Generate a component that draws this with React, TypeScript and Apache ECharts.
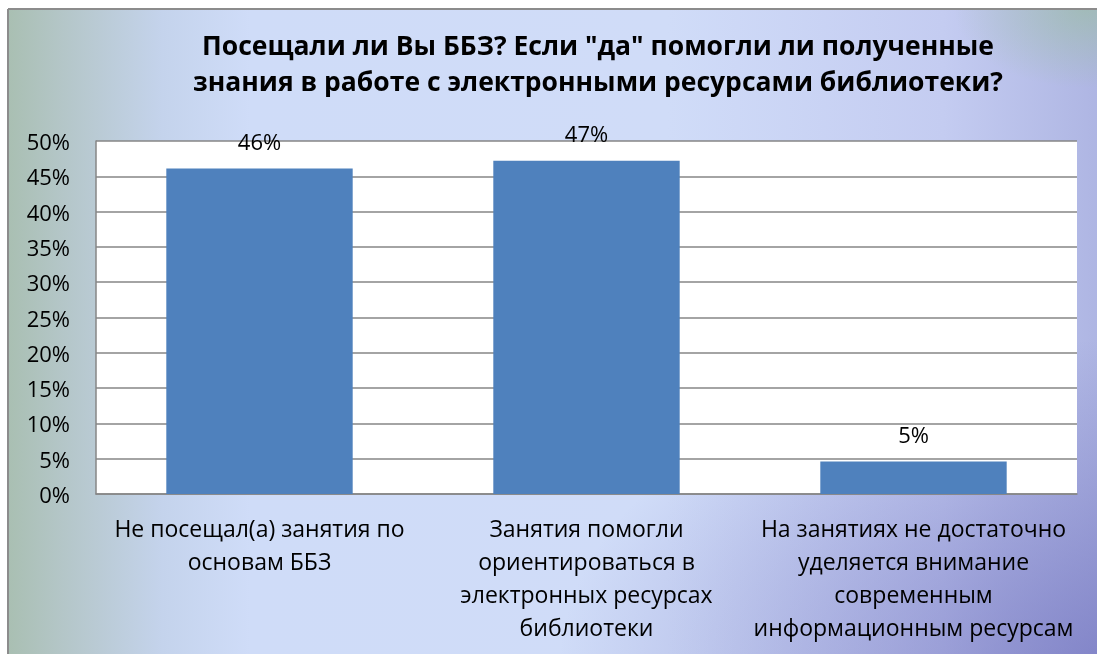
import React, { useEffect, useRef } from "react";
import * as echarts from "echarts";

const titleLines = [
  "Посещали ли Вы ББЗ? Если \"да\" помогли ли полученные",
  "знания в работе с электронными ресурсами библиотеки?",
];
const categories = [
  "Не посещал(а) занятия по\nосновам ББЗ",
  "Занятия помогли\nориентироваться в\nэлектронных ресурсах\nбиблиотеки",
  "На занятиях не достаточно\nуделяется внимание\nсовременным\nинформационным ресурсам",
];
const values = [0.461, 0.472, 0.046];
const yMin = 0;
const yMax = 0.5;
const yStep = 0.05;

const FONT = "'Open Sans', 'Noto Sans', sans-serif";

export default function App() {
  const ref = useRef<HTMLDivElement>(null);
  useEffect(() => {
    if (!ref.current) return;
    const chart = echarts.init(ref.current, undefined, { renderer: "svg" });
    chart.setOption({
      animation: false,
      graphic: [
        {
          type: "rect",
          silent: true,
          z: -10,
          shape: { x: 8, y: 9, width: 1100, height: 660 },
          style: {
            fill: new echarts.graphic.LinearGradient(0, 0, 1, 0, [
              { offset: 0, color: "#a9bfb2" },
              { offset: 0.05, color: "#b4c6c8" },
              { offset: 0.14, color: "#c4d3ec" },
              { offset: 0.22, color: "#cfdcf8" },
              { offset: 0.6, color: "#d0dcf8" },
              { offset: 0.85, color: "#c4ccf1" },
              { offset: 1, color: "#adb4e2" },
            ]),
          },
        },
        {
          type: "rect",
          silent: true,
          z: -9,
          shape: { x: 8, y: 9, width: 1100, height: 660 },
          style: {
            fill: new echarts.graphic.RadialGradient(1, 1, 0.5, [
              { offset: 0, color: "rgba(105,105,185,0.65)" },
              { offset: 1, color: "rgba(105,105,185,0)" },
            ]),
          },
        },
        {
          type: "rect",
          silent: true,
          z: -9,
          shape: { x: 8, y: 9, width: 1100, height: 660 },
          style: {
            fill: new echarts.graphic.RadialGradient(0.98, 0, 0.12, [
              { offset: 0, color: "rgba(150,190,150,0.55)" },
              { offset: 1, color: "rgba(150,190,150,0)" },
            ]),
          },
        },
        {
          type: "line",
          silent: true,
          z: -8,
          shape: { x1: 8, y1: 9, x2: 1097, y2: 9 },
          style: { stroke: "#8c8c8c", lineWidth: 2 },
        },
        {
          type: "line",
          silent: true,
          z: -8,
          shape: { x1: 8, y1: 9, x2: 8, y2: 654 },
          style: { stroke: "#8c8c8c", lineWidth: 2 },
        },
      ],
      title: {
        text: titleLines.join("\n"),
        left: 593,
        top: 22,
        textAlign: "center",
        textStyle: {
          fontFamily: FONT,
          fontSize: 26.5,
          fontWeight: "bold",
          color: "#000",
          lineHeight: 36,
        },
      },
      grid: {
        left: 96,
        top: 141,
        width: 981,
        height: 353,
        show: true,
        backgroundColor: "#ffffff",
        borderWidth: 0,
      },
      xAxis: {
        type: "category",
        data: categories,
        axisLine: { show: true, lineStyle: { color: "#868686", width: 1.5 } },
        axisTick: { show: false },
        axisLabel: {
          interval: 0,
          margin: 17,
          fontFamily: FONT,
          fontSize: 23,
          lineHeight: 33,
          color: "#000",
          align: "center",
        },
      },
      yAxis: {
        type: "value",
        min: yMin,
        max: yMax,
        interval: yStep,
        axisLine: { show: true, lineStyle: { color: "#868686", width: 1.5 } },
        axisTick: { show: false },
        splitLine: { show: true, lineStyle: { color: "#868686", width: 1.5 } },
        axisLabel: {
          margin: 26,
          fontFamily: FONT,
          fontSize: 22,
          color: "#000",
          formatter: (v: number) => Math.round(v * 100) + "%",
        },
      },
      series: [
        {
          type: "bar",
          data: values,
          barWidth: "57%",
          itemStyle: { color: "#4f81bd" },
          label: {
            show: true,
            position: "top",
            distance: 17,
            fontFamily: FONT,
            fontSize: 22,
            color: "#000",
            formatter: (p: any) => Math.round(p.value * 100) + "%",
          },
        },
      ],
    });
    return () => chart.dispose();
  }, []);
  return (
    <div
      ref={ref}
      style={{ position: "fixed", left: 0, top: 0, width: 1097, height: 654 }}
    />
  );
}
